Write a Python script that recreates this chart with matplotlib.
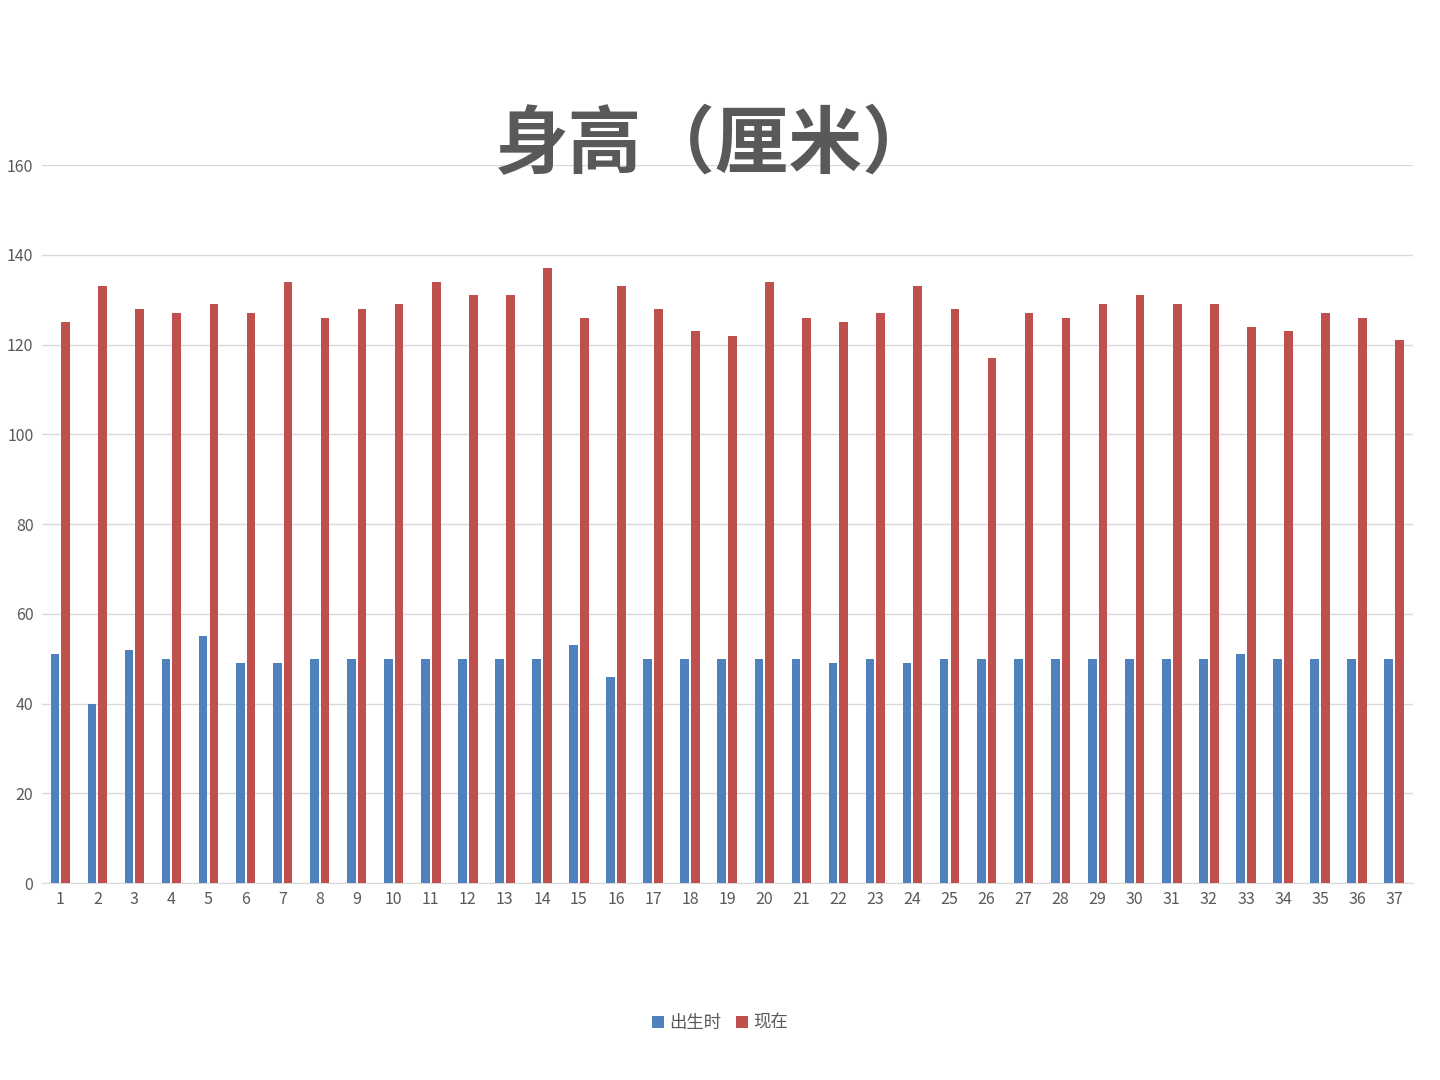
import matplotlib
matplotlib.use("Agg")
import matplotlib.pyplot as plt
import numpy as np

plt.rcParams['font.family'] = ['Noto Sans CJK SC', 'DejaVu Sans']

categories = [str(i) for i in range(1, 38)]
birth = [51, 40, 52, 50, 55, 49, 49, 50, 50, 50, 50, 50, 50, 50, 53, 46, 50, 50, 50,
         50, 50, 49, 50, 49, 50, 50, 50, 50, 50, 50, 50, 50, 51, 50, 50, 50, 50]
now = [125, 133, 128, 127, 129, 127, 134, 126, 128, 129, 134, 131, 131, 137, 126, 133,
       128, 123, 122, 134, 126, 125, 127, 133, 128, 117, 127, 126, 129, 131, 129, 129,
       124, 123, 127, 126, 121]
series_names = ['出生时', '现在']
title = '身高（厘米）'

fig = plt.figure(figsize=(14.4, 10.8), dpi=100)
ax = fig.add_axes([0.029, 0.1824, 0.952, 0.6648])

x = np.arange(1, len(categories) + 1)
w = 0.235
ax.bar(x - 0.145, birth, width=w, color='#4f81bd', label=series_names[0], zorder=3)
ax.bar(x + 0.145, now, width=w, color='#c0504d', label=series_names[1], zorder=3)

ax.set_xlim(0.5, len(categories) + 0.5)
ax.set_ylim(0, 160)
ax.set_yticks(np.arange(0, 161, 20))
ax.set_xticks(x)
ax.set_xticklabels(categories)
ax.grid(axis='y', color='#d9d9d9', linewidth=1, zorder=0)
for s in ['top', 'right', 'left']:
    ax.spines[s].set_visible(False)
ax.spines['bottom'].set_color('#d9d9d9')
ax.tick_params(axis='both', length=0, labelsize=11.5, labelcolor='#595959')
ax.tick_params(axis='x', pad=6)
ax.tick_params(axis='y', pad=6)

fig.text(0.497, 0.865, title, ha='center', va='center', fontsize=53,
         fontweight='bold', color='#595959')

leg = fig.legend(loc='center', bbox_to_anchor=(0.5, 0.053), ncol=2, frameon=False,
                 fontsize=12.5, handlelength=0.7, handleheight=0.7,
                 handletextpad=0.3, columnspacing=0.8)
for t in leg.get_texts():
    t.set_color('#595959')

fig.savefig('out.png', dpi=100)
